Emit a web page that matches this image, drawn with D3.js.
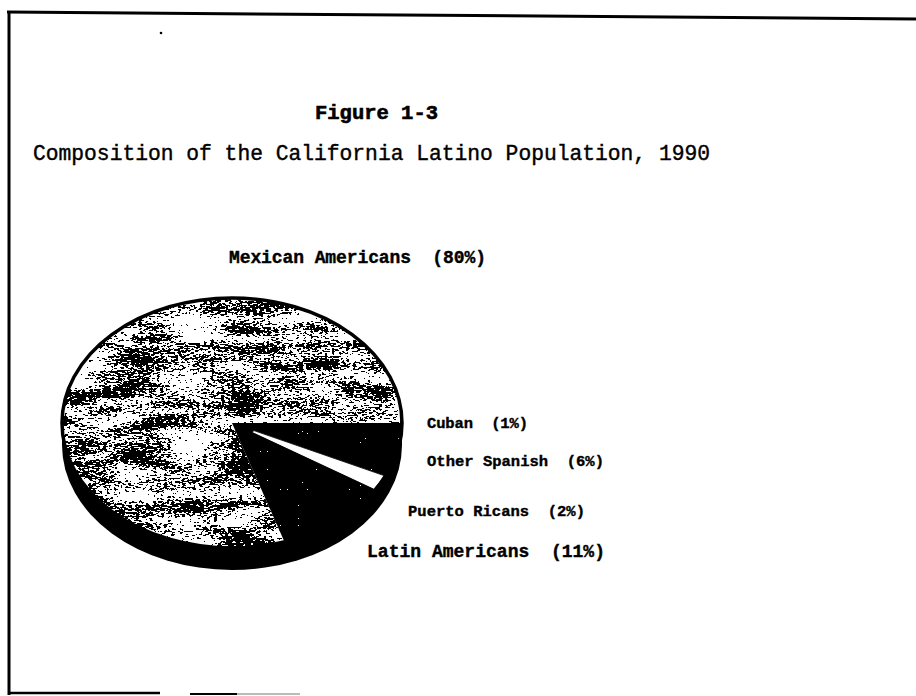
<!DOCTYPE html>
<html>
<head>
<meta charset="utf-8">
<script src="https://cdn.jsdelivr.net/npm/d3@7/dist/d3.min.js"></script>
<style>
  html, body { margin: 0; padding: 0; background: #fff; }
  svg { display: block; }
  text { font-family: "Liberation Mono", "Courier New", monospace; fill: #000; white-space: pre; }
</style>
</head>
<body>
<svg id="chart" width="916" height="696"></svg>
<script>
// ---- data ----
const categories = ["Cuban", "Other Spanish", "Puerto Ricans", "Latin Americans", "Mexican Americans"];
const values = [1, 6, 2, 11, 80];
const figureLabel = "Figure 1-3";
const chartTitle = "Composition of the California Latino Population, 1990";

// ---- layout / style (not data) ----
const W = 916, H = 696;
const cx = 232, cy = 423, rx = 170, ry = 125, depth = 22;
const sliceFill = {
  "Cuban": "#000", "Other Spanish": "#000", "Puerto Ricans": "#fff",
  "Latin Americans": "#000", "Mexican Americans": "speckle"
};
const labelPos = {
  "Mexican Americans": {x: 229, y: 263, size: 18, len: 257},
  "Cuban":             {x: 427, y: 428, size: 15.5, len: 101},
  "Other Spanish":     {x: 427, y: 466, size: 15.5, len: 177},
  "Puerto Ricans":     {x: 408, y: 516, size: 15.5, len: 177},
  "Latin Americans":   {x: 367, y: 557, size: 18, len: 238}
};

const svg = d3.select("#chart");
const defs = svg.append("defs");

function region(sel) {
  return sel.attr("filterUnits", "userSpaceOnUse").attr("x", 0).attr("y", 0)
    .attr("width", W).attr("height", H).attr("color-interpolation-filters", "sRGB");
}
const OPAQUE = "1 0 0 0 0  0 1 0 0 0  0 0 1 0 0  0 0 0 0 1";

// speckled texture for the large slice: fine grain + coarse horizontal streaks
const f = region(defs.append("filter").attr("id", "speck"));
f.append("feTurbulence").attr("type", "fractalNoise")
  .attr("baseFrequency", "0.28 0.55").attr("numOctaves", 2).attr("seed", 11).attr("result", "n1");
f.append("feColorMatrix").attr("in", "n1").attr("type", "matrix").attr("values", OPAQUE).attr("result", "o1");
f.append("feTurbulence").attr("type", "fractalNoise")
  .attr("baseFrequency", "0.018 0.07").attr("numOctaves", 2).attr("seed", 3).attr("result", "n2");
f.append("feColorMatrix").attr("in", "n2").attr("type", "matrix").attr("values", OPAQUE).attr("result", "o2");
f.append("feComposite").attr("in", "o1").attr("in2", "o2").attr("operator", "arithmetic")
  .attr("k1", 0).attr("k2", 0.75).attr("k3", 0.7).attr("k4", -0.2).attr("result", "mix");
f.append("feColorMatrix").attr("in", "mix").attr("type", "matrix")
  .attr("values", "0 0 0 0 0  0 0 0 0 0  0 0 0 0 0  -1 0 0 0 1").attr("result", "a");
const ct = f.append("feComponentTransfer").attr("in", "a").attr("result", "t");
ct.append("feFuncA").attr("type", "discrete").attr("tableValues", "0 0 0 0 0 0 0 0 0 0 1 1 1 1 1 1 1 1 1 1");
f.append("feComposite").attr("in", "t").attr("in2", "SourceAlpha").attr("operator", "in").attr("result", "dots");
f.append("feFlood").attr("flood-color", "#fff").attr("result", "w");
f.append("feComposite").attr("in", "w").attr("in2", "SourceAlpha").attr("operator", "in").attr("result", "bg");
const fm = f.append("feMerge");
fm.append("feMergeNode").attr("in", "bg");
fm.append("feMergeNode").attr("in", "dots");

// sparse white flecks for dark slices
const g2 = region(defs.append("filter").attr("id", "fleck"));
g2.append("feTurbulence").attr("type", "fractalNoise")
  .attr("baseFrequency", "0.45").attr("numOctaves", 1).attr("seed", 5).attr("result", "n");
g2.append("feColorMatrix").attr("in", "n").attr("type", "matrix")
  .attr("values", "0 0 0 0 1  0 0 0 0 1  0 0 0 0 1  6 0 0 0 -4.1").attr("result", "a");
const ct2 = g2.append("feComponentTransfer").attr("in", "a").attr("result", "t");
ct2.append("feFuncA").attr("type", "discrete").attr("tableValues", "0 1");
g2.append("feComposite").attr("in", "t").attr("in2", "SourceAlpha").attr("operator", "in").attr("result", "dots");
const fm2 = g2.append("feMerge");
fm2.append("feMergeNode").attr("in", "SourceGraphic");
fm2.append("feMergeNode").attr("in", "dots");

// ---- frame ----
svg.append("line").attr("x1", 7).attr("y1", 12).attr("x2", W).attr("y2", 19)
  .attr("stroke", "#000").attr("stroke-width", 3);
svg.append("line").attr("x1", 9).attr("y1", 11).attr("x2", 9).attr("y2", 695)
  .attr("stroke", "#000").attr("stroke-width", 3);
svg.append("line").attr("x1", 8).attr("y1", 693).attr("x2", 160).attr("y2", 693)
  .attr("stroke", "#000").attr("stroke-width", 2.5);
svg.append("line").attr("x1", 190).attr("y1", 694).attr("x2", 237).attr("y2", 694)
  .attr("stroke", "#000").attr("stroke-width", 2);
svg.append("line").attr("x1", 237).attr("y1", 694).attr("x2", 300).attr("y2", 694)
  .attr("stroke", "#bbb").attr("stroke-width", 2);
svg.append("circle").attr("cx", 161).attr("cy", 33).attr("r", 1.3).attr("fill", "#000");

// ---- titles ----
svg.append("text").attr("x", 315).attr("y", 119)
  .attr("font-size", 20.5).attr("font-weight", "bold")
  .attr("stroke", "#000").attr("stroke-width", 0.6)
  .attr("textLength", 123).attr("lengthAdjust", "spacing")
  .text(figureLabel);
svg.append("text").attr("x", 33).attr("y", 160)
  .attr("font-size", 21.3)
  .attr("stroke", "#000").attr("stroke-width", 0.4)
  .attr("textLength", 677).attr("lengthAdjust", "spacing")
  .text(chartTitle);

// ---- 3D pie ----
const pie = d3.pie().sort(null).value(d => d)
  .startAngle(Math.PI / 2).endAngle(Math.PI / 2 + 2 * Math.PI);
const arcs = pie(values).map((a, i) => Object.assign(a, {name: categories[i]}));
const faceTransform = `translate(${cx},${cy}) scale(1,${ry / rx})`;

const pieG = svg.append("g");
// side wall (depth)
pieG.append("g").attr("transform", `translate(${cx},${cy + depth}) scale(1,${ry / rx})`)
  .append("circle").attr("r", rx).attr("fill", "#000");
pieG.append("rect").attr("x", cx - rx).attr("y", cy).attr("width", 2 * rx).attr("height", depth).attr("fill", "#000");

// top face base
pieG.append("g").attr("transform", faceTransform)
  .append("circle").attr("r", rx).attr("fill", "#000");

const arcFull = d3.arc().innerRadius(0).outerRadius(rx);
const arcThin = d3.arc().innerRadius(24).outerRadius(rx - 2);

const sliceG = pieG.selectAll("g.slice").data(arcs).enter().append("g")
  .attr("class", "slice")
  .attr("filter", d => sliceFill[d.name] === "speckle" ? "url(#speck)" : (sliceFill[d.name] === "#000" ? "url(#fleck)" : null));
sliceG.append("path")
  .attr("transform", faceTransform)
  .attr("d", d => d.name === "Puerto Ricans" ? arcThin(d) : arcFull(d))
  .attr("fill", d => sliceFill[d.name] === "speckle" ? "#fff" : sliceFill[d.name])
  .attr("stroke", d => d.name === "Puerto Ricans" ? "#000" : "none")
  .attr("stroke-width", 0.8)
  .attr("vector-effect", "non-scaling-stroke");

pieG.append("g").attr("transform", faceTransform)
  .append("circle").attr("r", rx).attr("fill", "none")
  .attr("stroke", "#000").attr("stroke-width", 3.5)
  .attr("vector-effect", "non-scaling-stroke");

// ---- labels ----
svg.selectAll("text.lbl").data(arcs).enter().append("text")
  .attr("class", "lbl")
  .attr("x", d => labelPos[d.name].x)
  .attr("y", d => labelPos[d.name].y)
  .attr("font-size", d => labelPos[d.name].size)
  .attr("font-weight", "bold")
  .attr("stroke", "#000").attr("stroke-width", 0.4)
  .attr("textLength", d => labelPos[d.name].len)
  .attr("lengthAdjust", "spacing")
  .text(d => `${d.name}  (${d.data}%)`);
</script>
</body>
</html>
